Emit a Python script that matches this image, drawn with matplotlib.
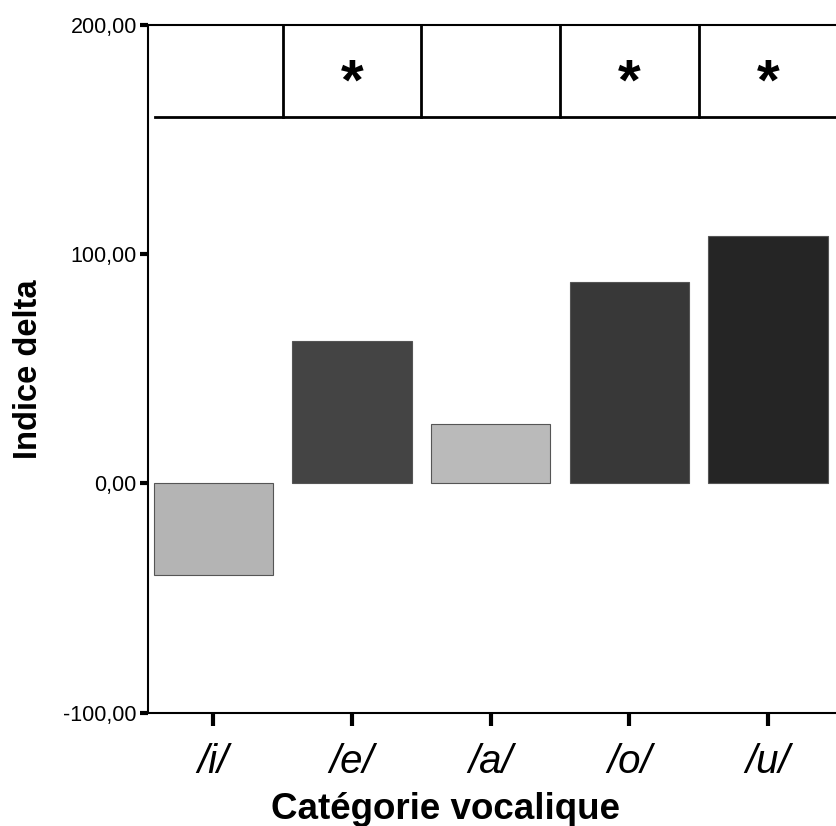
import matplotlib.pyplot as plt
from matplotlib.ticker import FuncFormatter

plt.rcParams['font.family'] = ['Liberation Sans', 'DejaVu Sans']

categories = ['/i/', '/e/', '/a/', '/o/', '/u/']
delta = [-40, 62, 26, 88, 108]
significant = [False, True, False, True, True]
bar_colors = ['#b4b4b4', '#444444', '#bababa', '#383838', '#252525']

fig = plt.figure(figsize=(8.36, 8.26), dpi=100)
ax = fig.add_axes([0.177, 0.137, 0.823, 0.833])

x = list(range(len(categories)))
ax.bar(x, delta, width=0.86, color=bar_colors, edgecolor='#555555', linewidth=0.8)

# significance strip along the top of the plot
box_floor = 160
ax.plot([-0.42, 4.6], [box_floor, box_floor], color='black', lw=2, clip_on=False)
for k in range(len(categories) - 1):
    ax.plot([k + 0.5, k + 0.5], [box_floor, 200], color='black', lw=2)
for xi, sig in zip(x, significant):
    if sig:
        ax.text(xi, 174, '*', ha='center', va='center', fontsize=42, fontweight='bold')

ax.set_xlim(-0.47, 4.49)
ax.set_ylim(-100, 200)
ax.set_yticks([-100, 0, 100, 200])
ax.yaxis.set_major_formatter(FuncFormatter(lambda v, p: f'{v:.2f}'.replace('.', ',')))
ax.set_xticks(x)
ax.set_xticklabels(categories, fontsize=29, style='italic')

ax.spines['right'].set_visible(False)
for s in ['left', 'bottom', 'top']:
    ax.spines[s].set_linewidth(1.5)
ax.tick_params(axis='y', length=6, width=3, labelsize=15.5, pad=2)
ax.tick_params(axis='x', length=9, width=3, pad=13)

ax.set_ylabel('Indice delta', fontsize=23.5, fontweight='bold', labelpad=14)
ax.set_xlabel('Catégorie vocalique', fontsize=26.5, fontweight='bold')
ax.xaxis.set_label_coords(0.433, -0.115)

fig.savefig('out.png', dpi=100)
